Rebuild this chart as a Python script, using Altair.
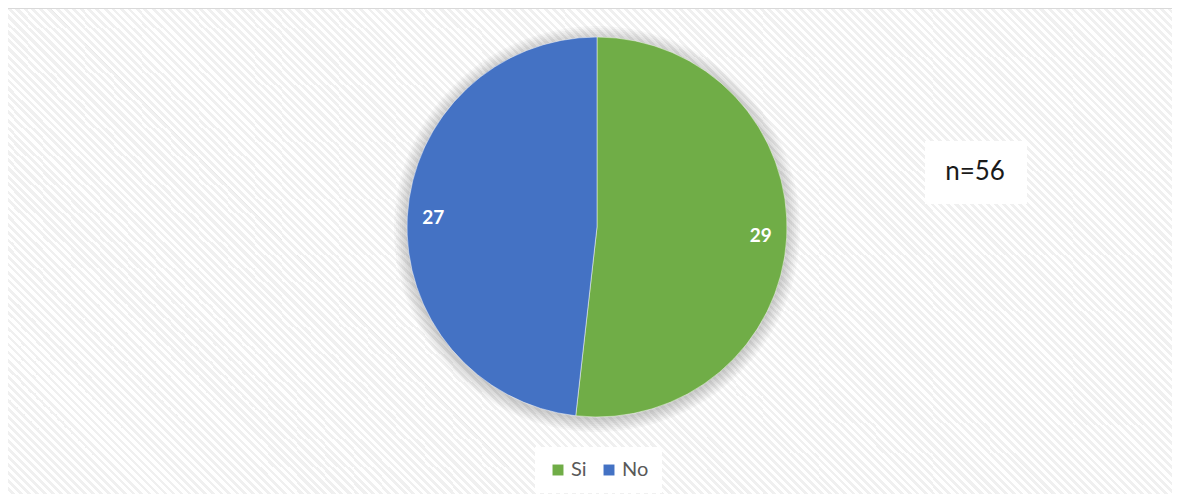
import math
import altair as alt
import pandas as pd

# ---- data ----
categories = ["Si", "No"]
values = [29, 27]
colors = ["#70AD47", "#4472C4"]
n_label = f"n={sum(values)}"

df = pd.DataFrame({"cat": categories, "value": values, "idx": list(range(len(categories)))})

W, H = 1164, 486
CX, CY, R = 589, 219, 190

# ---- hatched background via repeating linear gradient ----
ratio = H / W
span = (1 + ratio) / (1 + ratio ** 2)
step = 8.0 / (W + H)
stops = []
k = 0
while k * step < 1:
    a = k * step
    b = min(a + step * 0.5, 1)
    c = min(a + step, 1)
    stops += [{"offset": a, "color": "#ffffff"}, {"offset": b, "color": "#ffffff"},
              {"offset": b, "color": "#f0f0f0"}, {"offset": c, "color": "#f0f0f0"}]
    k += 1
hatch = alt.LinearGradient(gradient="linear", x1=0, y1=1, x2=span, y2=1 - span * ratio,
                           stops=[alt.GradientStop(offset=s["offset"], color=s["color"]) for s in stops])

bg = alt.Chart(df).mark_rect(fill=hatch, strokeWidth=0).encode(
    x=alt.value(0), x2=alt.value(W), y=alt.value(0), y2=alt.value(H))

border_left = alt.Chart(df).mark_rule(color="#d9d9d9", strokeWidth=2).encode(
    x=alt.value(-1), y=alt.value(-1), y2=alt.value(H))
border_top = alt.Chart(df).mark_rule(color="#d9d9d9", strokeWidth=2).encode(
    x=alt.value(-1), x2=alt.value(W), y=alt.value(0))

# soft shadow rings
shadows = []
for rr in [191, 193, 195, 197, 199, 201, 203]:
    shadows.append(
        alt.Chart(df.head(1)).mark_arc(theta=0, theta2=2 * math.pi, radius=rr,
                                        color="#000000", opacity=0.028).encode(
            x=alt.value(CX), y=alt.value(CY + 2)))

theta = alt.Theta("value:Q", stack=True, scale=alt.Scale(range=[0, 2 * math.pi]))
order = alt.Order("idx:O")

pie = alt.Chart(df).mark_arc(radius=R, stroke="#ffffff", strokeWidth=0.8, strokeOpacity=0.6).encode(
    theta=theta,
    order=order,
    x=alt.value(CX), y=alt.value(CY),
    color=alt.Color("cat:N", sort=categories,
                    scale=alt.Scale(domain=categories, range=colors),
                    legend=alt.Legend(title=None, orient="none", direction="horizontal",
                                      legendX=527, legendY=439, fillColor="#ffffff",
                                      padding=13, symbolType="square", symbolSize=120,
                                      symbolStrokeWidth=0, labelFontSize=20,
                                      labelColor="#595959", labelFont="Lato",
                                      labelOffset=3, columnPadding=12)),
)

labels = alt.Chart(df).mark_text(radius=164, fontSize=19, fontWeight="bold", color="#ffffff",
                                 font="Lato").encode(
    theta=theta, order=order, x=alt.value(CX), y=alt.value(CY), text="value:Q")

nbox = alt.Chart(df.head(1)).mark_rect(color="#ffffff").encode(
    x=alt.value(917), x2=alt.value(1019), y=alt.value(133), y2=alt.value(196))
ntext = alt.Chart(pd.DataFrame({"t": [n_label]})).mark_text(
    fontSize=26, font="Lato", color="#1a1a1a").encode(
    x=alt.value(967), y=alt.value(164), text="t:N")

chart = alt.layer(bg, border_left, border_top, *shadows, pie, labels, nbox, ntext).properties(
    width=W, height=H, padding=0, autosize=alt.AutoSizeParams(type="none"),
    background="#ffffff",
).configure_view(stroke=None)

chart.save("out.html", embed_options={"renderer": "svg", "actions": False})
